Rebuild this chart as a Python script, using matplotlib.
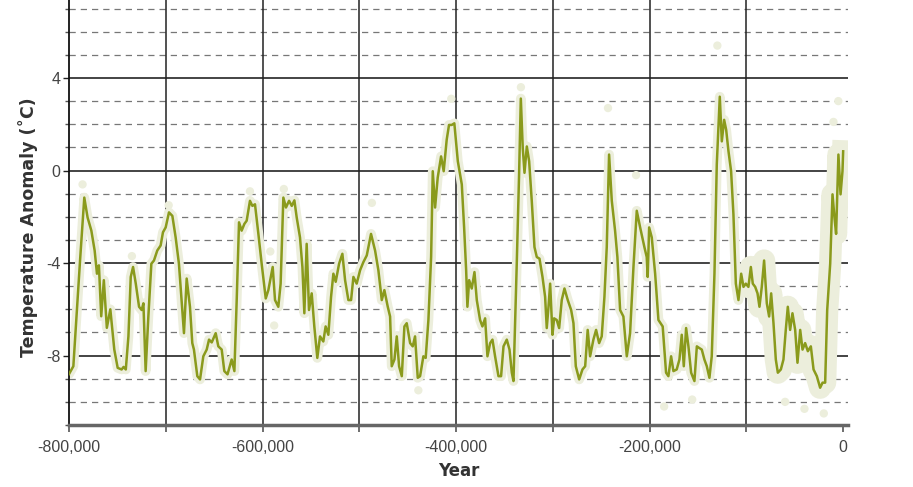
import matplotlib
matplotlib.use("Agg")
import matplotlib.pyplot as plt
from matplotlib.ticker import FuncFormatter, MultipleLocator

# years before present (thousands) and temperature anomaly (deg C)
years_ka = [
    -800.0, -795.5, -788.6, -784.2, -780.8, -776.9, -773.5, -771.1, -769.1, -766.7,
    -764.0, -760.9, -757.3, -753.2, -749.7, -745.6, -743.6, -741.3, -738.6, -736.2,
    -733.8, -731.0, -727.6, -724.9, -723.1, -720.8, -718.0, -714.9, -712.2, -708.8,
    -705.3, -702.9, -700.1, -696.7, -693.2, -689.8, -686.4, -682.9, -681.2, -678.4,
    -675.0, -672.6, -670.9, -667.4, -664.6, -661.2, -657.7, -655.3, -652.5, -648.4,
    -645.7, -642.2, -639.5, -636.2, -631.9, -629.1, -626.7, -624.3, -621.6, -618.8,
    -616.4, -613.0, -610.5, -607.8, -604.3, -600.9, -596.7, -594.0, -589.5, -587.1,
    -583.7, -581.3, -578.5, -575.8, -572.6, -569.8, -567.1, -564.7, -561.3, -558.8,
    -556.8, -554.4, -552.0, -549.2, -546.5, -543.4, -540.6, -537.2, -534.8, -532.0,
    -529.2, -526.8, -524.4, -520.9, -517.5, -514.7, -511.3, -508.5, -506.1, -502.7,
    -499.2, -495.8, -492.3, -487.9, -483.7, -480.3, -476.8, -474.1, -470.6, -468.2,
    -466.5, -463.7, -461.3, -458.9, -456.1, -453.4, -451.0, -447.5, -444.8, -442.4,
    -439.6, -437.2, -433.8, -431.4, -428.6, -425.8, -424.1, -421.7, -419.0, -415.5,
    -412.8, -409.7, -407.3, -404.5, -401.8, -398.2, -394.1, -391.7, -389.6, -388.3,
    -386.5, -383.8, -381.0, -378.6, -375.2, -372.8, -370.0, -367.6, -364.8, -362.4,
    -359.7, -356.2, -353.5, -351.0, -347.6, -344.8, -342.4, -340.7, -337.3, -334.9,
    -333.1, -331.1, -329.3, -326.9, -324.5, -321.8, -319.0, -316.6, -313.8, -310.7,
    -308.0, -306.3, -304.5, -302.8, -300.4, -298.7, -296.0, -293.5, -290.8, -288.0,
    -284.6, -281.1, -278.7, -276.3, -272.8, -269.4, -266.6, -264.0, -261.5, -258.1,
    -255.3, -252.2, -249.5, -246.7, -244.3, -241.9, -239.1, -235.7, -233.3, -230.5,
    -227.1, -223.6, -220.2, -216.7, -213.3, -209.8, -205.4, -203.0, -202.0, -200.5,
    -197.8, -194.3, -190.9, -186.5, -183.0, -180.6, -177.8, -175.4, -172.0, -169.2,
    -166.8, -164.7, -162.3, -159.9, -157.1, -153.7, -151.2, -148.8, -146.1, -143.4,
    -140.9, -138.2, -135.8, -133.0, -130.6, -127.5, -125.4, -123.0, -120.9, -118.5,
    -115.8, -113.4, -110.9, -108.2, -105.4, -103.0, -100.6, -97.9, -95.4, -93.4,
    -90.9, -88.5, -86.5, -84.1, -81.7, -78.9, -76.5, -74.4, -72.0, -69.6,
    -67.5, -64.4, -61.7, -59.3, -57.2, -54.8, -52.4, -49.6, -47.2, -44.4,
    -42.0, -39.3, -36.5, -33.4, -30.6, -27.2, -23.8, -21.3, -18.6, -16.5,
    -13.4, -11.0, -9.0, -7.3, -4.9, -2.7, -0.7, 0.0,
]
temp_anomaly = [
    -8.8, -8.46, -3.9, -1.17, -2.03, -2.6, -3.46, -4.46, -4.1, -6.3,
    -4.74, -6.8, -6.0, -7.74, -8.53, -8.6, -8.49, -8.6, -7.17, -4.6,
    -4.17, -4.89, -5.89, -6.03, -5.74, -8.67, -6.31, -4.03, -3.89, -3.46,
    -3.24, -2.67, -2.46, -1.81, -1.96, -2.89, -4.03, -6.03, -7.03, -4.67,
    -5.89, -7.46, -7.74, -8.89, -9.03, -8.03, -7.74, -7.31, -7.43, -7.03,
    -7.6, -7.74, -8.67, -8.81, -8.17, -8.67, -5.6, -2.24, -2.6, -2.31,
    -2.17, -1.31, -1.53, -1.46, -2.74, -4.03, -5.53, -5.17, -4.17, -5.6,
    -5.89, -4.89, -1.17, -1.6, -1.31, -1.53, -1.29, -2.03, -2.89, -4.17,
    -6.17, -3.17, -6.03, -5.31, -6.74, -8.1, -7.17, -7.39, -6.74, -7.1,
    -5.46, -4.46, -4.81, -4.03, -3.6, -4.74, -5.6, -5.6, -4.6, -4.89,
    -4.31, -3.96, -3.67, -2.74, -3.46, -4.31, -5.6, -5.17, -5.89, -6.31,
    -8.46, -8.17, -7.17, -8.46, -8.89, -6.74, -6.6, -7.46, -7.6, -7.17,
    -8.96, -8.89, -8.03, -8.1, -6.46, -3.74, -0.03, -1.6, -0.31, 0.61,
    -0.03, 1.33, 1.97, 1.97, 2.04, 0.4, -0.6, -2.46, -4.31, -5.89,
    -4.74, -5.1, -4.39, -5.6, -6.46, -6.74, -6.39, -8.03, -7.46, -7.31,
    -8.03, -8.89, -8.89, -7.6, -7.31, -7.74, -8.74, -9.1, -4.03, -0.17,
    3.11, 0.97, -0.1, 1.04, 0.4, -1.31, -3.31, -3.74, -3.81, -4.6,
    -5.46, -6.81, -5.89, -4.89, -7.1, -6.39, -6.46, -6.81, -5.6, -5.1,
    -5.6, -6.03, -6.6, -8.46, -9.03, -8.6, -8.46, -6.89, -8.03, -7.31,
    -6.89, -7.46, -7.17, -5.46, -3.31, 0.69, -1.31, -2.6, -3.74, -6.03,
    -6.31, -8.03, -7.03, -4.17, -1.74, -2.46, -3.31, -3.74, -4.6, -2.46,
    -2.89, -4.46, -6.46, -6.74, -8.74, -8.89, -8.03, -8.67, -8.6, -8.17,
    -7.1, -8.46, -6.81, -7.6, -8.74, -9.1, -7.6, -7.67, -7.74, -8.17,
    -8.46, -8.96, -8.03, -4.46, 0.26, 3.19, 1.26, 2.19, 1.76, 0.83,
    -0.03, -1.89, -4.89, -5.6, -4.46, -5.03, -4.89, -5.03, -4.17, -4.89,
    -5.03, -5.31, -5.89, -5.03, -3.89, -5.74, -6.31, -5.31, -6.6, -8.17,
    -8.74, -8.6, -8.17, -6.89, -5.89, -6.89, -6.17, -6.89, -8.31, -6.89,
    -7.74, -7.46, -7.81, -7.6, -8.6, -8.89, -9.39, -9.17, -9.17, -6.03,
    -4.03, -1.03, -2.03, -2.74, 0.69, -1.03, -0.03, 0.83,
]

# scattered individual measurements lying away from the smoothed line
outlier_years_ka = [-786, -697, -735, -613, -578, -592, -588, -487, -405, -333,
                    -243, -214, -130, -5, -10, -20, -156, -439, -185, -60, -40]
outlier_temps = [-0.6, -1.5, -3.7, -0.9, -0.8, -3.5, -6.7, -1.4, 3.1, 3.6,
                 2.7, -0.2, 5.4, 3.0, 2.1, -10.5, -9.9, -9.5, -10.2, -10.0, -10.3]

x_tick_values = [-800000, -600000, -400000, -200000, 0]
y_tick_values = [-8, -4, 0, 4]

line_color = "#8a9a1c"
cloud_color = "#eceedc"

plt.rcParams["font.family"] = ["Liberation Sans", "DejaVu Sans"]

years = [v * 1000 for v in years_ka]
outlier_years = [v * 1000 for v in outlier_years_ka]

fig = plt.figure(figsize=(9.13, 4.87), dpi=100)
ax = fig.add_axes([69 / 913, 1 - 425 / 487, (848 - 69) / 913, 425 / 487])

# grid: solid every 4 degrees, dashed every degree, solid verticals every 100k years
for yv in range(-10, 8):
    if yv % 4 == 0:
        ax.axhline(yv, color="#111111", lw=1.1, zorder=1)
    else:
        ax.axhline(yv, color="#777777", lw=0.9, ls=(0, (5, 4)), zorder=1)
for xv in range(-700000, 0, 100000):
    ax.axvline(xv, color="#222222", lw=1.1, zorder=1)

# pale cloud of measurements
ax.plot(years, temp_anomaly, color=cloud_color, lw=7, solid_capstyle="round",
        solid_joinstyle="round", zorder=2)
tail = [i for i, y in enumerate(years_ka) if y >= -100]
ax.plot([years[i] for i in tail], [temp_anomaly[i] for i in tail], color=cloud_color,
        lw=16, solid_joinstyle="round", zorder=2)
ax.scatter(outlier_years, outlier_temps, s=36, color=cloud_color, edgecolors="none", zorder=2)

ax.plot(years, temp_anomaly, color=line_color, lw=1.8, zorder=3)

ax.set_xlim(-800000, 5000)
ax.set_ylim(-11.0, 7.37)

ax.set_xticks(x_tick_values)
ax.xaxis.set_minor_locator(MultipleLocator(100000))
ax.xaxis.set_major_formatter(FuncFormatter(lambda v, p: f"{int(v):,}"))
ax.set_yticks(y_tick_values)
ax.yaxis.set_minor_locator(MultipleLocator(1))
ax.yaxis.set_major_formatter(FuncFormatter(lambda v, p: f"{int(v)}"))

ax.tick_params(axis="x", which="both", direction="out", length=5, width=1.2,
               color="#555555", labelsize=11.5, labelcolor="#444444", pad=6)
ax.tick_params(axis="y", which="major", direction="out", length=4, width=1,
               color="#222222", labelsize=11.5, labelcolor="#444444", pad=2)
ax.tick_params(axis="y", which="minor", direction="out", length=3, width=1, color="#555555")

for side in ["top", "right"]:
    ax.spines[side].set_visible(False)
ax.spines["left"].set_color("#111111")
ax.spines["left"].set_linewidth(1.3)
ax.spines["bottom"].set_color("#666666")
ax.spines["bottom"].set_linewidth(2.5)

ax.set_xlabel("Year", fontsize=12, fontweight="bold", color="#333333",
              family=["DejaVu Sans"], va="center")
ax.xaxis.set_label_coords(0.5, -0.108)
ax.set_ylabel("Temperature Anomaly (˚C)", fontsize=12.5, fontweight="bold",
              color="#333333", family=["DejaVu Sans"], va="center")
ax.yaxis.set_label_coords(-0.052, 0.465)

fig.savefig("out.png", dpi=100)
